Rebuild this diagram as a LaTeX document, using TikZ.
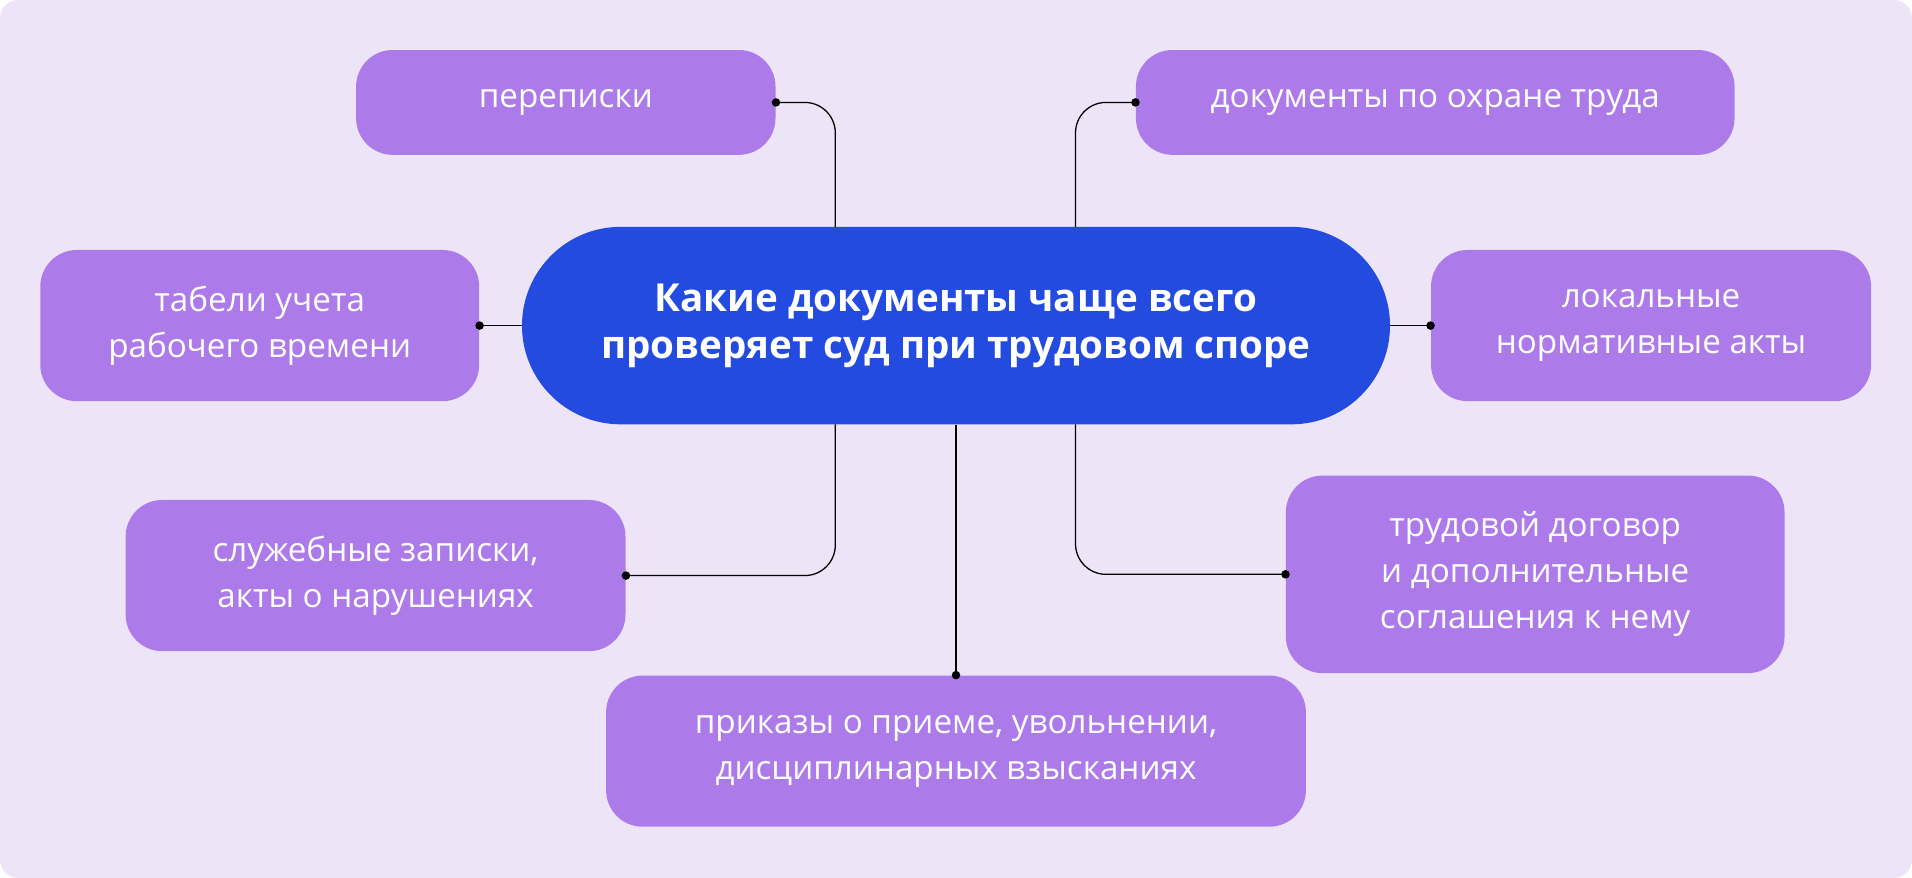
\documentclass[tikz,border=0pt]{standalone}
\usepackage{fontspec}
\setmainfont{Open Sans}
\usetikzlibrary{positioning}
\definecolor{bgpale}{HTML}{EDE4F7}
\definecolor{hubblue}{HTML}{234BE0}
\definecolor{leafviolet}{HTML}{AD7BE9}
\tikzset{
  leaf/.style={fill=leafviolet, rounded corners=0.6cm, text=white, align=center,
    font=\fontsize{15.5}{21.5}\selectfont, inner sep=0pt},
  hub/.style={fill=hubblue, rounded corners=1.62cm, text=white, align=center,
    font=\fontsize{18}{22}\selectfont\bfseries, inner sep=0pt,
    minimum width=14.24cm, minimum height=3.24cm},
  link/.style={draw=black, line width=0.6pt, rounded corners=0.5cm},
}
\newcommand{\linkdot}[1]{\fill (#1) circle (0.07cm);}
\begin{document}
\begin{tikzpicture}[x=0.02cm, y=-0.02cm]
    % background
    \fill[bgpale, rounded corners=0.3cm] (0,0) rectangle (1568,720);
    \useasboundingbox (0,0) rectangle (1568,720);

    % hub
    \node[hub] (hub) at (784,267) {Какие документы чаще всего\\проверяет суд при трудовом споре};

    % leaves
    \node[leaf, minimum width=6.88cm, minimum height=1.72cm] (letters) at (464,84) {переписки};
    \node[leaf, minimum width=9.82cm, minimum height=1.72cm] (safety) at (1177,84) {документы по охране труда};
    \node[leaf, minimum width=7.2cm, minimum height=2.48cm] (timesheets) at (213,267) {табели учета\\рабочего времени};
    \node[leaf, minimum width=7.22cm, minimum height=2.48cm] (localacts) at (1354,267) {локальные\\нормативные акты};
    \node[leaf, minimum width=8.2cm, minimum height=2.48cm] (memos) at (308,472) {служебные записки,\\акты о нарушениях};
    \node[leaf, minimum width=8.18cm, minimum height=3.24cm] (contract) at (1259,471) {трудовой договор\\и дополнительные\\соглашения к нему};
    \node[leaf, minimum width=11.48cm, minimum height=2.48cm] (orders) at (784,616) {приказы о приеме, увольнении,\\дисциплинарных взысканиях};

    % connectors
    \coordinate (hubNW) at (685,186);
    \coordinate (hubNE) at (882,186);
    \coordinate (hubSW) at (685,348);
    \coordinate (hubSE) at (882,348);
    \draw[link] (hubNW) |- (letters.east);
    \draw[link] (hubNE) |- (safety.west);
    \draw[link] (hub.west) -- (timesheets.east);
    \draw[link] (hub.east) -- (localacts.west);
    \draw[link] (hubSW) |- (memos.east);
    \draw[link] (hubSE) |- (contract.west);
    \draw[link] (hub.south) -- (orders.north);

    % dots
    \linkdot{letters.east}
    \linkdot{safety.west}
    \linkdot{timesheets.east}
    \linkdot{localacts.west}
    \linkdot{memos.east}
    \linkdot{contract.west}
    \linkdot{orders.north}
\end{tikzpicture}
\end{document}
